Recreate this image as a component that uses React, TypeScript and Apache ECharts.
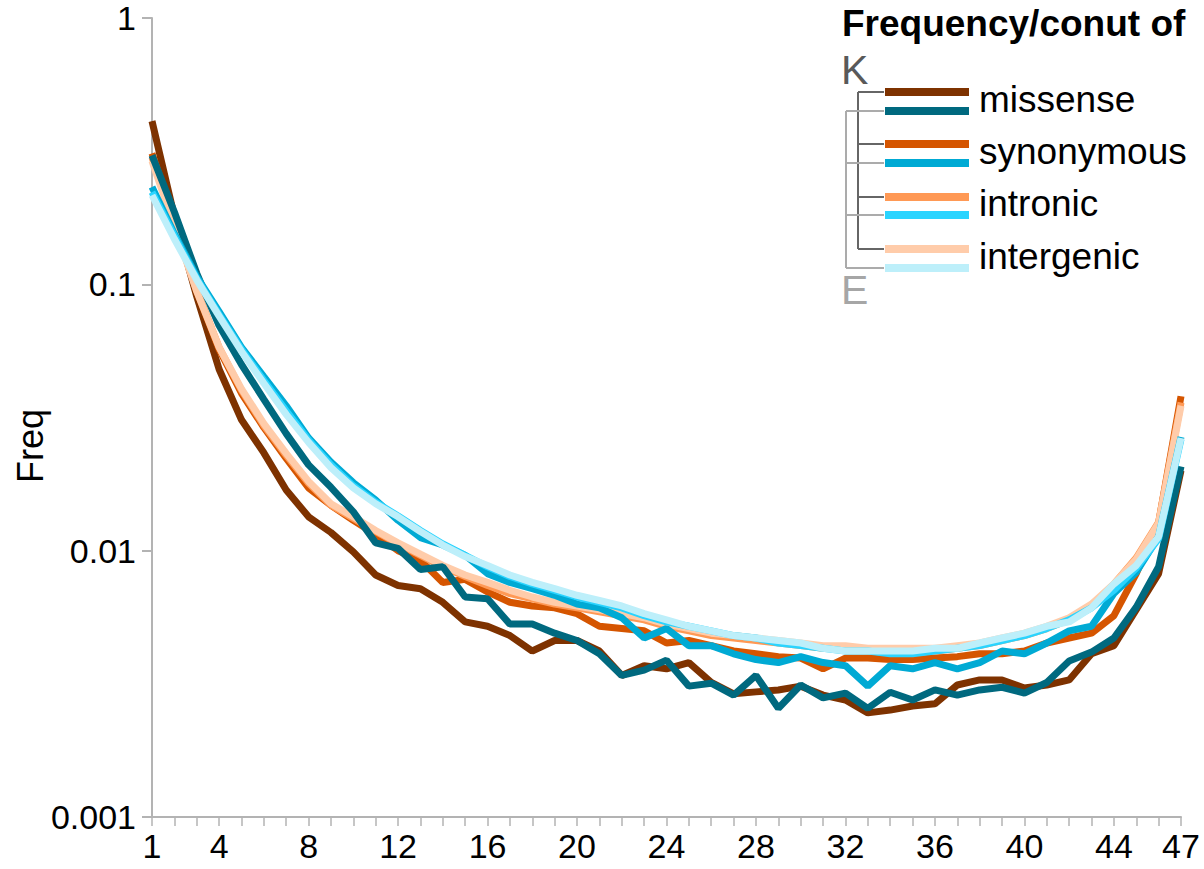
import React, { useEffect, useRef } from "react";
import * as echarts from "echarts";

const categories: string[] = Array.from({ length: 47 }, (_, i) => String(i + 1));

const kMissense = [0.41, 0.18, 0.09, 0.048, 0.031, 0.0233, 0.0169, 0.0134, 0.0117, 0.0099, 0.0081, 0.0074, 0.0072, 0.0064, 0.0054, 0.0052, 0.0048, 0.0042, 0.0046, 0.0046, 0.0042, 0.0034, 0.0037, 0.0036, 0.0038, 0.0032, 0.0029, 0.00295, 0.003, 0.0031, 0.00287, 0.00275, 0.00246, 0.00252, 0.00261, 0.00266, 0.00313, 0.00327, 0.00327, 0.00305, 0.00313, 0.00327, 0.0041, 0.0044, 0.006, 0.0082, 0.02];
const kSynonymous = [0.31, 0.175, 0.094, 0.057, 0.039, 0.029, 0.0222, 0.0172, 0.0148, 0.013, 0.0115, 0.01, 0.0092, 0.0076, 0.0078, 0.007, 0.0064, 0.0062, 0.0061, 0.0058, 0.0052, 0.0051, 0.005, 0.0045, 0.0046, 0.0044, 0.0042, 0.0041, 0.004, 0.00395, 0.0036, 0.00395, 0.00395, 0.0039, 0.0039, 0.00395, 0.004, 0.0041, 0.0041, 0.0042, 0.0045, 0.0047, 0.0049, 0.0057, 0.0082, 0.0127, 0.038];
const kIntronic = [0.3, 0.17, 0.095, 0.058, 0.04, 0.0295, 0.0228, 0.0179, 0.0148, 0.0132, 0.0118, 0.0106, 0.0096, 0.0087, 0.008, 0.0074, 0.0069, 0.0066, 0.0063, 0.0061, 0.0059, 0.0057, 0.0055, 0.0052, 0.005, 0.0048, 0.0047, 0.0046, 0.0045, 0.0044, 0.0043, 0.0043, 0.0042, 0.0042, 0.0042, 0.0042, 0.0043, 0.0044, 0.0046, 0.0048, 0.0051, 0.0055, 0.0062, 0.0075, 0.0094, 0.0128, 0.036];
const kIntergenic = [0.29, 0.165, 0.094, 0.058, 0.0405, 0.03, 0.0232, 0.0182, 0.015, 0.0134, 0.0119, 0.0107, 0.0097, 0.0088, 0.0081, 0.0076, 0.0071, 0.0067, 0.0064, 0.0062, 0.006, 0.0058, 0.0056, 0.0053, 0.0051, 0.0049, 0.0048, 0.0047, 0.0046, 0.0045, 0.0044, 0.0044, 0.0043, 0.0043, 0.0043, 0.0043, 0.0044, 0.0045, 0.0047, 0.0049, 0.0052, 0.0056, 0.0063, 0.0075, 0.0093, 0.0127, 0.035];
const eMissense = [0.305, 0.187, 0.11, 0.07, 0.05, 0.037, 0.0275, 0.021, 0.0173, 0.014, 0.0107, 0.0102, 0.0085, 0.0087, 0.0067, 0.0066, 0.0053, 0.0053, 0.0049, 0.0046, 0.0041, 0.0034, 0.00356, 0.00388, 0.0031, 0.00318, 0.00287, 0.0034, 0.00256, 0.00313, 0.0028, 0.00292, 0.00256, 0.00294, 0.00275, 0.003, 0.00287, 0.003, 0.00307, 0.00292, 0.0032, 0.00385, 0.00416, 0.0047, 0.00614, 0.0087, 0.0207];
const eSynonymous = [0.232, 0.155, 0.107, 0.079, 0.058, 0.045, 0.035, 0.0265, 0.0215, 0.018, 0.0155, 0.013, 0.0112, 0.0105, 0.0096, 0.0082, 0.0076, 0.0072, 0.0068, 0.0063, 0.0061, 0.0056, 0.0047, 0.0051, 0.0044, 0.0044, 0.0041, 0.0039, 0.0038, 0.004, 0.0038, 0.0037, 0.0031, 0.0037, 0.0036, 0.0038, 0.0036, 0.0038, 0.0042, 0.0041, 0.0045, 0.005, 0.0052, 0.0069, 0.0083, 0.0113, 0.0267];
const eIntronic = [0.222, 0.152, 0.105, 0.077, 0.057, 0.0435, 0.0335, 0.026, 0.021, 0.0175, 0.0152, 0.0135, 0.0119, 0.0106, 0.0096, 0.0087, 0.008, 0.0075, 0.0071, 0.0067, 0.0064, 0.0061, 0.0057, 0.0054, 0.0052, 0.005, 0.0048, 0.0047, 0.0045, 0.0044, 0.0043, 0.0042, 0.0042, 0.0041, 0.0041, 0.0042, 0.0043, 0.0044, 0.0046, 0.0048, 0.0051, 0.0055, 0.0061, 0.0071, 0.0086, 0.0111, 0.0262];
const eIntergenic = [0.216, 0.148, 0.104, 0.076, 0.056, 0.0425, 0.0325, 0.0255, 0.0205, 0.0172, 0.015, 0.0134, 0.0118, 0.0105, 0.0095, 0.0088, 0.0081, 0.0076, 0.0072, 0.0068, 0.0065, 0.0062, 0.0058, 0.0055, 0.0052, 0.005, 0.0048, 0.0047, 0.0046, 0.0045, 0.0043, 0.0042, 0.0042, 0.0042, 0.0042, 0.0043, 0.0043, 0.0045, 0.0047, 0.0049, 0.0052, 0.0054, 0.0061, 0.0075, 0.0088, 0.0113, 0.0265];

const legendLabels = ["missense", "synonymous", "intronic", "intergenic"];
const kColors = ["#7E3200", "#D55500", "#FF9955", "#FFCCAA"];
const eColors = ["#00697F", "#00AAD4", "#2AD4FF", "#BDEFFA"];
const kData = [kMissense, kSynonymous, kIntronic, kIntergenic];
const eData = [eMissense, eSynonymous, eIntronic, eIntergenic];

const FONT = "'Liberation Sans', Arial, sans-serif";

export default function App() {
  const ref = useRef<HTMLDivElement>(null);
  useEffect(() => {
    if (!ref.current) return;
    const chart = echarts.init(ref.current, undefined, { renderer: "svg" });

    const series: any[] = [];
    kData.forEach((d, i) =>
      series.push({
        name: "K " + legendLabels[i],
        type: "line",
        data: d,
        showSymbol: false,
        lineStyle: { color: kColors[i], width: 7 },
        itemStyle: { color: kColors[i] },
      })
    );
    eData.forEach((d, i) =>
      series.push({
        name: "E " + legendLabels[i],
        type: "line",
        data: d,
        showSymbol: false,
        lineStyle: { color: eColors[i], width: 7 },
        itemStyle: { color: eColors[i] },
      })
    );

    const legendX0 = 885;
    const legendW = 84;
    const kY = [92, 144, 197, 249];
    const eY = [111, 163, 215, 268];
    const graphics: any[] = [
      {
        type: "text",
        left: 842,
        top: 5,
        style: { text: "Frequency/conut of", font: `bold 37px ${FONT}`, fill: "#000" },
      },
      { type: "text", x: 841, y: 70, style: { text: "K", font: `41px ${FONT}`, fill: "#595959", verticalAlign: "middle" } },
      { type: "text", x: 841, y: 290, style: { text: "E", font: `41px ${FONT}`, fill: "#A6A6A6", verticalAlign: "middle" } },
      { type: "line", shape: { x1: 846, y1: eY[0], x2: 846, y2: eY[3] }, style: { stroke: "#ABABAB", lineWidth: 2 } },
      { type: "line", shape: { x1: 858, y1: kY[0], x2: 858, y2: kY[3] }, style: { stroke: "#666666", lineWidth: 2 } },
      {
        type: "text",
        x: 30,
        y: 446,
        rotation: Math.PI / 2,
        style: { text: "Freq", font: `36px ${FONT}`, fill: "#000", align: "center", verticalAlign: "middle" },
      },
    ];
    for (let i = 0; i < 4; i++) {
      graphics.push({ type: "line", shape: { x1: 846, y1: eY[i], x2: 884, y2: eY[i] }, style: { stroke: "#ABABAB", lineWidth: 2 } });
      graphics.push({ type: "line", shape: { x1: 858, y1: kY[i], x2: 884, y2: kY[i] }, style: { stroke: "#666666", lineWidth: 2 } });
      graphics.push({ type: "rect", shape: { x: legendX0, y: kY[i] - 4, width: legendW, height: 8 }, style: { fill: kColors[i] } });
      graphics.push({ type: "rect", shape: { x: legendX0, y: eY[i] - 4, width: legendW, height: 8 }, style: { fill: eColors[i] } });
      graphics.push({
        type: "text",
        x: 979,
        y: eY[i] - 12,
        style: { text: legendLabels[i], font: `37px ${FONT}`, fill: "#000", verticalAlign: "middle" },
      });
    }

    chart.setOption({
      animation: false,
      backgroundColor: "#fff",
      grid: { left: 152, right: 23, top: 18, bottom: 52, containLabel: false },
      xAxis: {
        type: "category",
        data: categories,
        boundaryGap: false,
        axisLine: { show: true, lineStyle: { color: "#B3B3B3", width: 2 } },
        axisTick: { show: true, interval: 0, length: 9, lineStyle: { color: "#B3B3B3", width: 1.5 } },
        axisLabel: {
          interval: (index: number) => index === 0 || (index + 1) % 4 === 0 || index === 46,
          color: "#000",
          fontFamily: FONT,
          fontSize: 34,
          margin: 12,
        },
        splitLine: { show: false },
      },
      yAxis: {
        type: "log",
        logBase: 10,
        min: 0.001,
        max: 1,
        axisLine: { show: true, lineStyle: { color: "#B3B3B3", width: 2 } },
        axisTick: { show: true, length: 10, lineStyle: { color: "#B3B3B3", width: 2 } },
        axisLabel: {
          color: "#000",
          fontFamily: FONT,
          fontSize: 34,
          margin: 16,
          formatter: (v: number) => {
            const e = Math.round(Math.log10(v));
            return e >= 0 ? "1" : Math.pow(10, e).toFixed(-e);
          },
        },
        splitLine: { show: false },
      },
      series,
      graphic: graphics,
    });

    return () => chart.dispose();
  }, []);

  return <div ref={ref} style={{ position: "fixed", left: 0, top: 0, width: 1204, height: 869, background: "#fff" }} />;
}
